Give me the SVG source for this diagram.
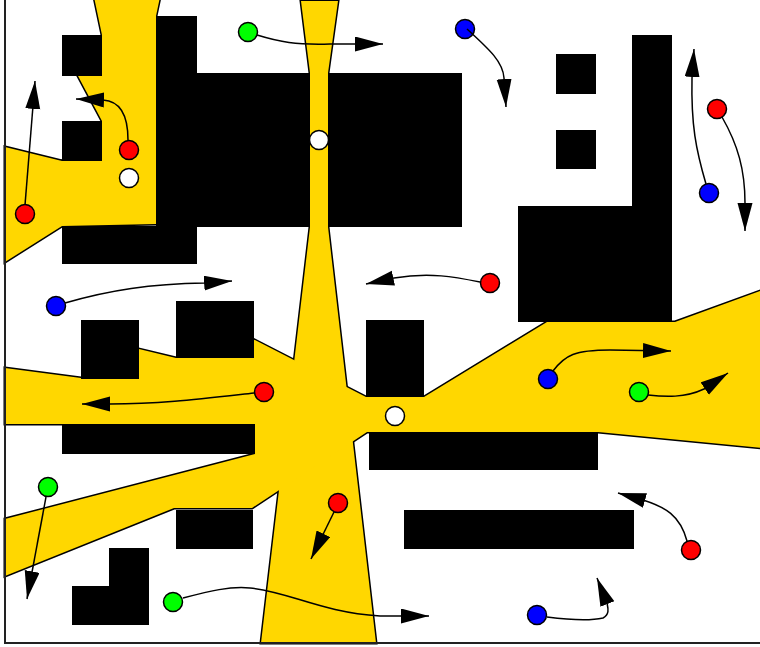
<svg xmlns="http://www.w3.org/2000/svg" width="760" height="647" viewBox="0 0 760 647">
<defs>
<style>
.blk{fill:#000;stroke:none}
.ys{fill:none;stroke:#000;stroke-width:3;stroke-linejoin:miter}
.yf{fill:#FFD700;stroke:none}
.node{stroke:#000;stroke-width:1.5}
.r{fill:#FF0000}.g{fill:#00FF00}.b{fill:#0000FF}.w{fill:#FFFFFF}
.edge{fill:none;stroke:#000;stroke-width:1.5;marker-end:url(#ah)}
</style>
<marker id="ah" markerUnits="userSpaceOnUse" markerWidth="30" markerHeight="16" viewBox="0 0 30 16" refX="28" refY="7.5" orient="auto">
<path d="M0,0 L28,7.5 L0,15 z" fill="#000"/>
</marker>
<polygon id="y1" points="94,-3 102,35 78,76 102,121 62,161 5,147 5,262 62,226 156,224 156,16 160,-3"/>
<polygon id="y2" points="301,1 338,1 328,73 328,227 376,643 261,643 310,227 310,73"/>
<polygon id="y3" points="5,368 81,378 139,349 176,358 245,335 366,397 424,397 547,322 675,322 763,290 763,448 598,432 367,432 252,508 174,508 5,576 5,519 255,454 255,424 5,424"/>
</defs>
<rect width="760" height="647" fill="#fff"/>
<g id="building-top">
<rect class="blk" x="156" y="16" width="41" height="60"/>
<rect class="blk" x="156" y="73" width="306" height="154"/>
<rect class="blk" x="62" y="226" width="135" height="38"/>
</g>
<g id="corridors">
<use href="#y1" class="ys"/><use href="#y2" class="ys"/><use href="#y3" class="ys"/>
<use href="#y1" class="yf"/><use href="#y2" class="yf"/><use href="#y3" class="yf"/>
</g>
<g id="obstacles">
<rect class="blk" x="62" y="35" width="40" height="41"/>
<rect class="blk" x="62" y="121" width="40" height="40"/>
<rect class="blk" x="556" y="54" width="40" height="40"/>
<rect class="blk" x="556" y="130" width="40" height="39"/>
<rect class="blk" x="632" y="35" width="40" height="175"/>
<rect class="blk" x="518" y="206" width="154" height="116"/>
<rect class="blk" x="81" y="320" width="58" height="59"/>
<rect class="blk" x="176" y="301" width="78" height="57"/>
<rect class="blk" x="366" y="320" width="58" height="77"/>
<rect class="blk" x="62" y="424" width="193" height="30"/>
<rect class="blk" x="369" y="432" width="229" height="38"/>
<rect class="blk" x="404" y="510" width="230" height="39"/>
<rect class="blk" x="176" y="510" width="77" height="39"/>
<polygon class="blk" points="109,548 149,548 149,625 72,625 72,586 109,586"/>
</g>
<path d="M5,0 V643 H760" fill="none" stroke="#222" stroke-width="2"/>
<g id="n1"><circle class="node g" cx="248" cy="32" r="9.5"/></g>
<g id="n2"><circle class="node b" cx="465" cy="29" r="9.5"/></g>
<g id="n3"><circle class="node r" cx="129" cy="150" r="9.5"/></g>
<g id="n4"><circle class="node w" cx="129" cy="178" r="9.5"/></g>
<g id="n5"><circle class="node w" cx="319" cy="140" r="9.5"/></g>
<g id="n6"><circle class="node r" cx="717" cy="109" r="9.5"/></g>
<g id="n7"><circle class="node b" cx="709" cy="193" r="9.5"/></g>
<g id="n8"><circle class="node r" cx="25" cy="214" r="9.5"/></g>
<g id="n9"><circle class="node b" cx="56" cy="306" r="9.5"/></g>
<g id="n10"><circle class="node r" cx="490" cy="283" r="9.5"/></g>
<g id="n11"><circle class="node r" cx="264" cy="392" r="9.5"/></g>
<g id="n12"><circle class="node w" cx="395" cy="416" r="9.5"/></g>
<g id="n13"><circle class="node b" cx="548" cy="379" r="9.5"/></g>
<g id="n14"><circle class="node g" cx="639" cy="392" r="9.5"/></g>
<g id="n15"><circle class="node g" cx="48" cy="487" r="9.5"/></g>
<g id="n16"><circle class="node r" cx="338" cy="503" r="9.5"/></g>
<g id="n17"><circle class="node r" cx="691" cy="550" r="9.5"/></g>
<g id="n18"><circle class="node g" cx="173" cy="602" r="9.5"/></g>
<g id="n19"><circle class="node b" cx="537" cy="615" r="9.5"/></g>
<g id="connectors">
<path class="edge" d="M257,35 C280,42 295,45 330,44 L383,44"/>
<path class="edge" d="M467,29 C490,50 503,62 504,78 L506,107"/>
<path class="edge" d="M128,140 C128,115 120,101 103,100 L76,99"/>
<path class="edge" d="M25,205 L35,81"/>
<path class="edge" d="M65,303 C110,290 150,284 205,283 L232,281"/>
<path class="edge" d="M722,117 C738,145 745,170 745,203 L745,231"/>
<path class="edge" d="M706,184 C696,150 691,125 692,78 L694,49"/>
<path class="edge" d="M480,282 C455,277 430,272 394,278 L366,284"/>
<path class="edge" d="M254,393 C200,399 160,404 110,404 L82,404"/>
<path class="edge" d="M553,371 C565,355 575,350 610,350 L671,351"/>
<path class="edge" d="M648,395 C665,397 685,398 704,389 L728,373"/>
<path class="edge" d="M46,497 L27,599"/>
<path class="edge" d="M334,512 L311,559"/>
<path class="edge" d="M183,598 C210,591 230,586 250,588 C290,592 320,612 380,616 L429,616"/>
<path class="edge" d="M687,541 C680,515 665,507 643,500 L618,493"/>
<path class="edge" d="M547,617 C570,620 590,621 603,618 C610,614 608,608 607,603 L597,578"/>
</g>
</svg>
